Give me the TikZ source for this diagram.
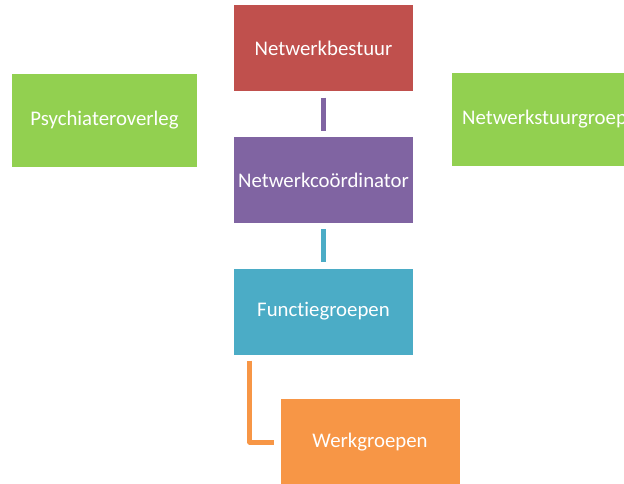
\documentclass[tikz,border=0pt]{standalone}
\usepackage{fontspec}
\setmainfont{Carlito}[Ligatures=NoCommon]
\definecolor{bestuurred}{HTML}{C0504D}
\definecolor{overleggreen}{HTML}{92D050}
\definecolor{coordpurple}{HTML}{8064A2}
\definecolor{functieblue}{HTML}{4BACC6}
\definecolor{werkorange}{HTML}{F79646}
\begin{document}
\begin{tikzpicture}[x=1pt, y=-1pt,
    box/.style={rectangle, inner sep=0pt, minimum width=179pt, minimum height=86pt,
      text=white, font=\fontsize{20.8}{24}\selectfont},
    wide/.style={box, minimum width=185pt, minimum height=93pt},
    link/.style={line width=5pt, shorten <=6pt, shorten >=6pt}
    ]
    \useasboundingbox (0,0) rectangle (624,484);
    \clip (0,0) rectangle (624,484);
    \node[box, fill=bestuurred] (bestuur) at (323.5,48.5) {Netwerkbestuur};
    \node[box, fill=coordpurple] (coord) at (323.5,180) {Netwerkcoördinator};
    \node[box, fill=functieblue] (functie) at (323.5,311.5) {Functiegroepen};
    \node[box, fill=werkorange] (werk) at (370,442) {Werkgroepen};
    \node[wide, fill=overleggreen] (psych) at (104.5,120.5) {Psychiateroverleg};
    \node[wide, fill=overleggreen] (stuur) at (544.5,119.5) {Netwerkstuurgroep};
    % lijnen
    \draw[link, coordpurple] (bestuur) -- (coord);
    \draw[link, functieblue] (coord) -- (functie);
    \coordinate (corner) at ([xshift=16pt]functie.south west);
    \draw[link, werkorange, line join=round] (corner) -- (corner |- werk.west) -- (werk.west);
\end{tikzpicture}
\end{document}
